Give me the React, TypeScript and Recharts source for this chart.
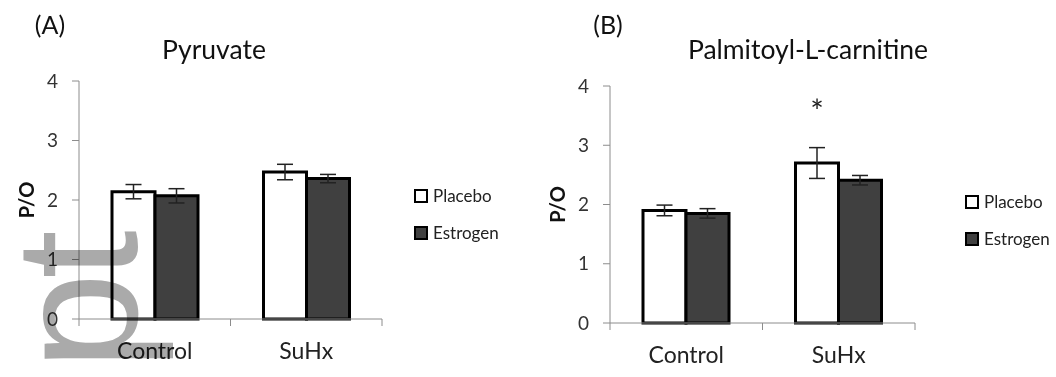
import { BarChart, Bar, XAxis, YAxis, ErrorBar, Legend, LabelList } from 'recharts'

// categories and tick values
const categories = ['Control', 'SuHx']
const yTicks = [0, 1, 2, 3, 4]

// (A) Pyruvate
const pyruvatePlacebo = [2.14, 2.47]
const pyruvatePlaceboErr = [0.12, 0.13]
const pyruvateEstrogen = [2.07, 2.36]
const pyruvateEstrogenErr = [0.12, 0.07]

// (B) Palmitoyl-L-carnitine
const palmPlacebo = [1.9, 2.7]
const palmPlaceboErr = [0.09, 0.26]
const palmEstrogen = [1.85, 2.41]
const palmEstrogenErr = [0.08, 0.08]
const palmSig = ['', '*']

const seriesNames = ['Placebo', 'Estrogen']
const seriesFills = ['#ffffff', '#404040']

const FONT = 'Lato, "Open Sans", sans-serif'
const AXIS = '#8c8c8c'

const buildRows = (p: number[], pe: number[], e: number[], ee: number[], sig?: string[]) =>
  categories.map((c, i) => ({
    name: c,
    placebo: p[i],
    placeboErr: pe[i],
    estrogen: e[i],
    estrogenErr: ee[i],
    sig: sig ? sig[i] : '',
  }))

const pyruvateData = buildRows(pyruvatePlacebo, pyruvatePlaceboErr, pyruvateEstrogen, pyruvateEstrogenErr)
const palmData = buildRows(palmPlacebo, palmPlaceboErr, palmEstrogen, palmEstrogenErr, palmSig)

// x tick: label under category, small tick marks at category boundaries (Excel style)
const makeXTick = (band: number, count: number) => (props: any) => {
  const { x, y, payload, index } = props
  return (
    <g>
      <line x1={x - band / 2} x2={x - band / 2} y1={y} y2={y + 7} stroke={AXIS} />
      {index === count - 1 && <line x1={x + band / 2} x2={x + band / 2} y1={y} y2={y + 7} stroke={AXIS} />}
      <text x={x} y={y + 34} textAnchor="middle" dominantBaseline="middle" fontFamily={FONT} fontSize={23} fill="#222">
        {payload.value}
      </text>
    </g>
  )
}

const LegendBox = (props: any) => {
  const items = [...(props.payload || [])].sort(
    (a: any, b: any) => seriesNames.indexOf(a.value) - seriesNames.indexOf(b.value)
  )
  return (
    <div style={{ fontFamily: FONT, fontSize: 17, color: '#222' }}>
      {items.map((entry: any, i: number) => (
        <div key={i} style={{ display: 'flex', alignItems: 'center', height: 37 }}>
          <span
            style={{
              width: 10,
              height: 10,
              border: '2px solid #000',
              background: seriesFills[seriesNames.indexOf(entry.value)],
              marginRight: 5,
              display: 'inline-block',
            }}
          />
          <span>{entry.value}</span>
        </div>
      ))}
    </div>
  )
}

const Star = (props: any) => {
  const { x, y, width, value } = props
  if (!value) return null
  return (
    <text x={x + width / 2} y={y - 48} textAnchor="middle" dominantBaseline="middle" fontFamily={FONT} fontSize={32} fill="#222">
      {value}
    </text>
  )
}

type PanelProps = {
  data: any[]
  width: number
  margin: { top: number; right: number; bottom: number; left: number }
  legendPos: { left: number; top: number }
  star?: boolean
}

const Panel = ({ data, width, margin, legendPos, star }: PanelProps) => {
  const plotW = width - margin.left - margin.right - 60
  const band = plotW / categories.length
  return (
    <BarChart width={width} height={377} data={data} margin={margin} barGap={0} barSize={43}>
      <XAxis
        dataKey="name"
        height={40}
        tickSize={0}
        tickMargin={0}
        tickLine={false}
        axisLine={{ stroke: AXIS, strokeWidth: 1 }}
        tick={makeXTick(band, categories.length)}
        interval={0}
      />
      <YAxis
        width={60}
        domain={[0, 4]}
        ticks={yTicks}
        tickSize={7}
        tickMargin={14}
        axisLine={{ stroke: AXIS }}
        tickLine={{ stroke: AXIS }}
        tick={{ fontFamily: FONT, fontSize: 19, fill: '#333' }}
        label={{ value: 'P/O', angle: -90, position: 'insideLeft', offset: 8, style: { fontFamily: FONT, fontSize: 20, fontWeight: 700, fill: '#111', textAnchor: 'middle' } }}
      />
      <Legend
        layout="vertical"
        verticalAlign="middle"
        align="center"
        content={<LegendBox />}
        wrapperStyle={{ left: legendPos.left, top: legendPos.top, right: 'auto', bottom: 'auto', width: 120 }}
      />
      <Bar dataKey="placebo" name={seriesNames[0]} fill={seriesFills[0]} stroke="#000" strokeWidth={3} isAnimationActive={false}>
        <ErrorBar dataKey="placeboErr" width={8} stroke="#222" strokeWidth={1.5} direction="y" isAnimationActive={false} />
        {star && <LabelList dataKey="sig" content={<Star />} />}
      </Bar>
      <Bar dataKey="estrogen" name={seriesNames[1]} fill={seriesFills[1]} stroke="#000" strokeWidth={3} isAnimationActive={false}>
        <ErrorBar dataKey="estrogenErr" width={8} stroke="#222" strokeWidth={1.5} direction="y" isAnimationActive={false} />
      </Bar>
    </BarChart>
  )
}

const App = () => {
  return (
    <div style={{ position: 'absolute', left: 0, top: 0, width: 1056, height: 377, background: '#fff', overflow: 'hidden' }}>
      <div style={{ position: 'absolute', left: 0, top: 0 }}>
        <Panel
          data={pyruvateData}
          width={530}
          margin={{ top: 81, right: 148, bottom: 18, left: 19 }}
          legendPos={{ left: 414, top: 177 }}
        />
      </div>
      <div style={{ position: 'absolute', left: 530, top: 0 }}>
        <Panel
          data={palmData}
          width={526}
          margin={{ top: 86, right: 141, bottom: 14, left: 20 }}
          legendPos={{ left: 435, top: 183 }}
          star
        />
      </div>
      <svg width={1056} height={377} style={{ position: 'absolute', left: 0, top: 0, pointerEvents: 'none' }}>
        <g fontFamily={FONT} fill="#111">
          <text x={50} y={34} textAnchor="middle" fontSize={25}>(A)</text>
          <text x={214} y={59} textAnchor="middle" fontSize={26.5}>Pyruvate</text>
          <text x={608} y={34} textAnchor="middle" fontSize={25}>(B)</text>
          <text x={808} y={59} textAnchor="middle" fontSize={26.5}>Palmitoyl-L-carnitine</text>
        </g>
      </svg>
      <svg width={1056} height={377} style={{ position: 'absolute', left: 0, top: 0, pointerEvents: 'none', mixBlendMode: 'multiply' }}>
        <text
          x={137}
          y={370}
          transform="rotate(-90 137 370)"
          fontFamily='"Liberation Sans", Arial, sans-serif'
          fontSize={175}
          letterSpacing={-6}
          fill="#aaaaaa"
        >
          pt
        </text>
      </svg>
    </div>
  )
}

export default App
